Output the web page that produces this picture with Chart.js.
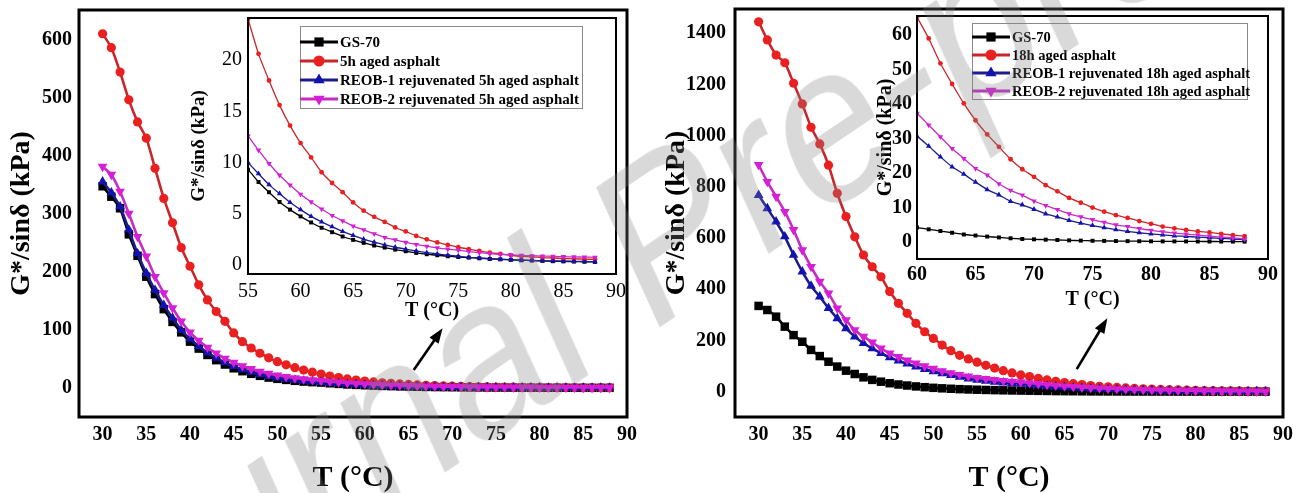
<!DOCTYPE html>
<html>
<head>
<meta charset="utf-8">
<script src="https://cdn.jsdelivr.net/npm/chart.js@4.4.1/dist/chart.umd.min.js"></script>
<style>
  html, body { margin: 0; padding: 0; background: #fff; }
  #wrap { position: relative; width: 1308px; height: 493px; overflow: hidden; background: #fff; }
  #wrap canvas { position: absolute; left: 0; top: 0; }
  #wm {
    position: absolute; left: 665px; top: 232px;
    transform: translate(-50%, -50%) scaleX(0.82) rotate(-29deg);
    font: 232px "Liberation Sans", sans-serif; line-height: 1;
    color: rgba(128, 128, 128, 0.3); white-space: nowrap; pointer-events: none;
  }
</style>
</head>
<body>
<div id="wrap">
  <canvas id="main5h" width="1308" height="493"></canvas>
  <canvas id="main18h" width="1308" height="493"></canvas>
  <canvas id="inset5h" width="1308" height="493"></canvas>
  <canvas id="inset18h" width="1308" height="493"></canvas>
  <div id="wm">Journal Pre-proof</div>
</div>
<script>
// temperatures (°C) of the sweep
const temps = [30,31,32,33,34,35,36,37,38,39,40,41,42,43,44,45,46,47,48,49,50,51,52,53,54,55,56,57,58,59,
  60,61,62,63,64,65,66,67,68,69,70,71,72,73,74,75,76,77,78,79,80,81,82,83,84,85,86,87,88];

// G*/sinδ (kPa), left figure (5h)
const gs70_5h = [348,330,310,265,228,192,162,136,114,96,80,68,57,48,40.5,34,29,24.5,21,18,15.8,14,12.4,11.1,10.1,
  9.3,8.1,7.1,6.15,5.4,4.74,4.15,3.63,3.2,2.78,2.45,2.16,1.9,1.7,1.5,1.34,1.18,1.05,0.95,0.85,0.78,0.72,0.65,0.59,0.55,0.5,0.46,0.43,0.4,0.37,0.35,0.33,0.31,0.3];
const aged5h = [611,587,545,497,459,431,379,327,285,242,210,178,152,132,115,95,80,69,60,52,45.5,40,35,31,27.3,
  24.0,20.6,18.0,15.6,13.6,11.9,10.5,9.05,8.0,7.1,6.1,5.3,4.7,4.2,3.66,3.27,2.84,2.5,2.2,1.96,1.73,1.54,1.37,1.2,1.08,0.95,0.85,0.8,0.72,0.68,0.63,0.6,0.57,0.55];
const reob1_5h = [356,337,313,273,232,198,169,143,121,100,85,72,61,52,44,37.5,32,27.5,23.5,20.3,17.6,15.5,13.8,12.3,11.1,
  10.0,8.9,7.84,6.96,6.1,5.4,4.74,4.2,3.73,3.27,2.88,2.52,2.22,1.96,1.73,1.54,1.37,1.2,1.08,0.95,0.85,0.75,0.69,0.62,0.56,0.52,0.48,0.45,0.42,0.4,0.38,0.36,0.34,0.33];
const reob2_5h = [382,368,339,301,261,227,192,164,138,115,96,82,70,60,51,44,38,33,28.5,25,22,19.5,17.2,15.3,13.9,
  12.6,11.2,9.9,8.76,7.8,6.9,6.15,5.46,4.83,4.3,3.8,3.43,3.04,2.68,2.45,2.2,2.0,1.83,1.67,1.54,1.44,1.3,1.2,1.1,1.03,0.98,0.93,0.9,0.87,0.84,0.81,0.79,0.77,0.75];

// G*/sinδ (kPa), right figure (18h)
const gs70_18h = [335,319,293,254,221,195,163,139,117,98,82,69,56,46,39,33,28,24,20.5,17.5,15,13,11.3,9.8,8.6,7.6,6.7,6.0,5.3,4.7,
  4.2,3.7,3.2,2.7,2.2,1.9,1.6,1.35,1.1,0.9,0.8,0.7,0.6,0.5,0.42,0.38,0.34,0.3,0.27,0.25,0.23,0.21,0.2,0.19,0.18,0.17,0.16,0.15,0.14];
const aged18h = [1445,1374,1315,1285,1205,1124,1033,968,885,775,684,605,534,488,449,391,345,306,267,234,208,182,160,142,128,115,103,92,82,73,
  65.3,59,51.8,45.8,40.2,35.3,31.2,27.6,24,21.1,18.9,16.5,14.7,12.8,11.4,10,8.8,7.8,7.0,6.1,5.3,4.5,4.0,3.5,3.1,2.8,2.4,2.0,1.7];
const reob1_18h = [768,716,664,606,534,469,413,371,326,286,247,215,189,169,150,134,121,109,98,88,79,71,64,57,51,46,42,38,35,32.7,
  30.7,27.8,24.7,21.8,19.7,17.4,15.2,13.7,11.8,10.8,9.5,8.2,7.3,6.3,5.5,4.8,4.2,3.6,3.1,2.7,2.4,2.1,1.8,1.65,1.45,1.25,1.05,0.9,0.7];
const reob2_18h = [886,820,762,703,632,553,488,430,384,326,280,241,215,193,169,150,136,123,111,100,90,81,73,66,60,54.5,50,46,42.5,39.8,
  37.3,33.9,30.5,27.1,24.2,21.3,19.4,16.9,15,13.6,11.9,10.6,9.4,8.2,7.3,6.5,5.7,5.0,4.5,3.9,3.4,3.0,2.6,2.3,2.0,1.75,1.45,1.2,0.9];

const names5h = ['GS-70', '5h aged asphalt', 'REOB-1 rejuvenated 5h aged asphalt', 'REOB-2 rejuvenated 5h aged asphalt'];
const names18h = ['GS-70', '18h aged asphalt', 'REOB-1 rejuvenated 18h aged asphalt', 'REOB-2 rejuvenated 18h aged asphalt'];

// tick labels
const mainXTicks = [30,35,40,45,50,55,60,65,70,75,80,85,90];
const yTicks5h = [0,100,200,300,400,500,600];
const yTicks18h = [0,200,400,600,800,1000,1200,1400];
const insetXTicks5h = [55,60,65,70,75,80,85,90];
const insetYTicks5h = [0,5,10,15,20];
const insetXTicks18h = [60,65,70,75,80,85,90];
const insetYTicks18h = [0,10,20,30,40,50,60];

const SERIF = '"Liberation Serif", "Times New Roman", serif';
const looks = [
  { line: '#000000', fill: '#000000', shape: 'rect', rot: 0, order: 3, big: 6, small: 2.8 },
  { line: '#c8262a', fill: '#ea2020', shape: 'circle', rot: 0, order: 2, big: 4.6, small: 2.4 },
  { line: '#1c1c8e', fill: '#1212b0', shape: 'triangle', rot: 0, order: 1, big: 5.6, small: 3.2 },
  { line: '#c42cc4', fill: '#d61ed6', shape: 'triangle', rot: 180, order: 0, big: 5.6, small: 3.2 }
];

function buildSets(names, series, big) {
  return series.map((vals, i) => ({
    label: names[i],
    data: temps.map((t, k) => ({ x: t, y: vals[k] })),
    borderColor: looks[i].line,
    backgroundColor: looks[i].fill,
    pointBackgroundColor: looks[i].fill,
    pointBorderColor: looks[i].fill,
    pointBorderWidth: 0,
    pointStyle: looks[i].shape,
    pointRotation: looks[i].rot,
    pointRadius: big ? looks[i].big : looks[i].small,
    borderWidth: big ? 2.6 : 1.3,
    tension: 0.2,
    order: looks[i].order
  }));
}

// white plot area + black frame
const framePlugin = {
  id: 'frame',
  beforeDraw(chart, args, o) {
    if (!o.fill) return;
    const a = chart.chartArea, ctx = chart.ctx;
    ctx.save();
    ctx.fillStyle = '#fff';
    ctx.fillRect(a.left, a.top, a.right - a.left, a.bottom - a.top);
    ctx.restore();
  },
  afterDraw(chart, args, o) {
    const a = chart.chartArea, ctx = chart.ctx;
    ctx.save();
    ctx.strokeStyle = '#000';
    ctx.lineWidth = o.width;
    ctx.strokeRect(a.left, a.top, a.right - a.left, a.bottom - a.top);
    ctx.restore();
  }
};

// legend with line + marker samples inside the inset
const insetLegend = {
  id: 'insetLegend',
  afterDraw(chart, args, o) {
    const a = chart.chartArea, ctx = chart.ctx;
    const x0 = a.left + o.x, y0 = a.top + o.y;
    ctx.save();
    ctx.strokeStyle = '#8a8a8a';
    ctx.lineWidth = 1;
    ctx.strokeRect(x0 + 0.5, y0 + 0.5, o.w, o.h);
    ctx.font = 'bold ' + o.size + 'px ' + SERIF;
    ctx.textBaseline = 'middle';
    chart.data.datasets.forEach((ds, i) => {
      const y = y0 + o.first + i * o.gap;
      ctx.strokeStyle = ds.borderColor;
      ctx.lineWidth = 3;
      ctx.beginPath();
      ctx.moveTo(x0, y);
      ctx.lineTo(x0 + o.sample, y);
      ctx.stroke();
      ctx.fillStyle = ds.pointBackgroundColor;
      Chart.helpers.drawPoint(ctx, {
        pointStyle: ds.pointStyle, rotation: ds.pointRotation,
        radius: ds.pointStyle === 'circle' ? 5.5 : 6.5, borderWidth: 0
      }, x0 + o.sample / 2, y);
      ctx.fillStyle = '#000';
      ctx.fillText(ds.label, x0 + o.sample + 2, y + 1);
    });
    ctx.restore();
  }
};

// arrow pointing at the inset, given in data units
const arrowPlugin = {
  id: 'arrow',
  afterDraw(chart, args, o) {
    const sx = chart.scales.x, sy = chart.scales.y, ctx = chart.ctx;
    const x1 = sx.getPixelForValue(o.from[0]), y1 = sy.getPixelForValue(o.from[1]);
    const x2 = sx.getPixelForValue(o.to[0]), y2 = sy.getPixelForValue(o.to[1]);
    const ang = Math.atan2(y2 - y1, x2 - x1);
    const head = 15, half = 5.5;
    ctx.save();
    ctx.strokeStyle = '#000';
    ctx.fillStyle = '#000';
    ctx.lineWidth = 2.6;
    ctx.beginPath();
    ctx.moveTo(x1, y1);
    ctx.lineTo(x2 - Math.cos(ang) * head * 0.8, y2 - Math.sin(ang) * head * 0.8);
    ctx.stroke();
    const bx = x2 - Math.cos(ang) * head, by = y2 - Math.sin(ang) * head;
    ctx.beginPath();
    ctx.moveTo(x2, y2);
    ctx.lineTo(bx + Math.sin(ang) * half, by - Math.cos(ang) * half);
    ctx.lineTo(bx - Math.sin(ang) * half, by + Math.cos(ang) * half);
    ctx.closePath();
    ctx.fill();
    ctx.restore();
  }
};

function axis(c) {
  return {
    type: 'linear',
    min: c.min,
    max: c.max,
    afterBuildTicks: s => { s.ticks = c.ticks.map(v => ({ value: v })); },
    afterFit: s => {
      if (c.w !== undefined) s.width = c.w;
      if (c.h !== undefined) s.height = c.h;
      // keep the plot area exactly where the layout padding puts it
      s.paddingTop = 0; s.paddingBottom = 0; s.paddingLeft = 0; s.paddingRight = 0;
    },
    grid: { display: false, drawTicks: false },
    border: { display: false },
    ticks: {
      color: '#000', padding: c.tickPad, maxRotation: 0, autoSkip: false,
      callback: v => String(v),
      font: { family: SERIF, size: c.tickSize, weight: c.tickBold ? 'bold' : 'normal', lineHeight: 1.2 }
    },
    title: {
      display: true, text: c.title, color: '#000',
      padding: { top: c.titlePad, bottom: c.titlePad },
      font: { family: SERIF, size: c.titleSize, weight: 'bold', lineHeight: 1 }
    }
  };
}

function makeChart(id, c) {
  return new Chart(document.getElementById(id), {
    type: 'line',
    data: { datasets: buildSets(c.names, c.series, c.big) },
    options: {
      responsive: false,
      animation: false,
      events: [],
      layout: { padding: c.pad },
      plugins: {
        legend: { display: false },
        tooltip: { enabled: false },
        frame: { width: c.frameW, fill: !c.big },
        insetLegend: c.legend || false,
        arrow: c.arrow || false
      },
      scales: { x: axis(c.x), y: axis(c.y) }
    },
    plugins: [framePlugin, insetLegend, arrowPlugin]
  });
}

const yTitle = 'G*/sinδ (kPa)';
const xTitle = 'T (°C)';

makeChart('main5h', {
  names: names5h, series: [gs70_5h, aged5h, reob1_5h, reob2_5h], big: true, frameW: 3,
  pad: { left: 0, top: 10, right: 681, bottom: 0 },
  x: { min: 27.3, max: 90, ticks: mainXTicks, h: 76, tickPad: 6, tickSize: 20, tickBold: true, title: xTitle, titleSize: 30, titlePad: 0 },
  y: { min: -50, max: 652, ticks: yTicks5h, w: 79, tickPad: 7, tickSize: 20, tickBold: true, title: yTitle, titleSize: 28, titlePad: 8 },
  arrow: { from: [65.6, 31], to: [68.9, 103] }
});

makeChart('main18h', {
  names: names18h, series: [gs70_18h, aged18h, reob1_18h, reob2_18h], big: true, frameW: 3,
  pad: { left: 650, top: 9, right: 25, bottom: 0 },
  x: { min: 27.3, max: 90, ticks: mainXTicks, h: 76, tickPad: 6, tickSize: 20, tickBold: true, title: xTitle, titleSize: 30, titlePad: 0 },
  y: { min: -99, max: 1495, ticks: yTicks18h, w: 85, tickPad: 9, tickSize: 20, tickBold: true, title: yTitle, titleSize: 28, titlePad: 13 },
  arrow: { from: [66.4, 88], to: [69.9, 287] }
});

makeChart('inset5h', {
  names: names5h, series: [gs70_5h, aged5h, reob1_5h, reob2_5h], big: false, frameW: 2,
  pad: { left: 188, top: 18, right: 692, bottom: 172 },
  x: { min: 55, max: 90, ticks: insetXTicks5h, h: 47, tickPad: 6, tickSize: 20, tickBold: false, title: xTitle, titleSize: 20, titlePad: 0 },
  y: { min: -0.88, max: 24.1, ticks: insetYTicks5h, w: 60, tickPad: 6, tickSize: 20, tickBold: false, title: yTitle, titleSize: 19, titlePad: 2 },
  legend: { x: 52, y: 8, w: 282, h: 82, first: 16, gap: 19, sample: 38, size: 15 }
});

makeChart('inset18h', {
  names: names18h, series: [gs70_18h, aged18h, reob1_18h, reob2_18h], big: false, frameW: 2,
  pad: { left: 870, top: 16, right: 40, bottom: 183 },
  x: { min: 60, max: 90, ticks: insetXTicks18h, h: 51, tickPad: 4, tickSize: 20, tickBold: true, title: xTitle, titleSize: 20, titlePad: 0 },
  y: { min: -4.9, max: 65.5, ticks: insetYTicks18h, w: 47, tickPad: 5, tickSize: 20, tickBold: true, title: yTitle, titleSize: 20, titlePad: 6 },
  legend: { x: 55, y: 7, w: 275, h: 76, first: 14, gap: 18, sample: 38, size: 14.5 }
});
</script>
</body>
</html>
